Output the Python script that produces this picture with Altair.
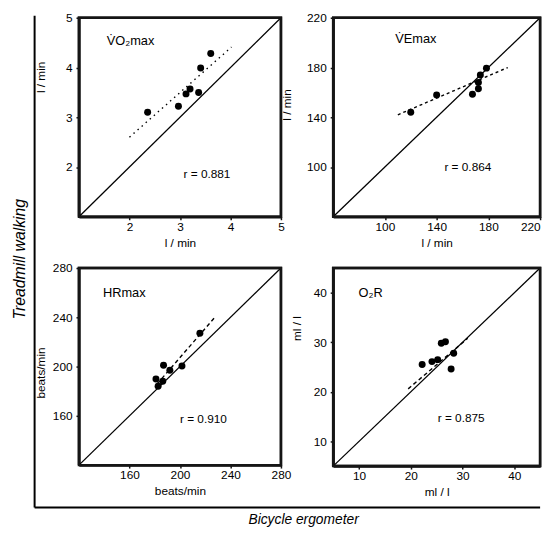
import altair as alt
import pandas as pd

FONT = "Liberation Sans"
EDGE = "#151515"

# ---- data: bicycle ergometer (x) vs treadmill walking (y) ----
vo2_bike = [2.36, 2.97, 3.12, 3.20, 3.37, 3.41, 3.61]
vo2_tread = [3.10, 3.22, 3.47, 3.57, 3.50, 3.99, 4.28]
vo2_reg_x = [2.0, 4.02]
vo2_reg_y = [2.6, 4.41]

ve_bike = [120, 140, 167.7, 172.3, 172.3, 173.8, 178.5]
ve_tread = [144, 158, 158.5, 163, 168, 174, 179.5]
ve_reg_x = [110, 195]
ve_reg_y = [142, 180]

hr_bike = [181, 182.7, 186.4, 187, 192, 201.6, 215.8]
hr_tread = [190, 184, 188, 201, 197, 200.5, 227]
hr_reg_x = [182, 228.5]
hr_reg_y = [186, 241]

o2r_bike = [22.2, 24.1, 25.2, 25.9, 26.7, 28.3, 27.8]
o2r_tread = [25.5, 26.1, 26.5, 29.8, 30.1, 27.8, 24.6]
o2r_reg_x = [19.5, 31.0]
o2r_reg_y = [20.6, 30.8]

vo2_ticks = [2, 3, 4, 5]
ve_ticks = [100, 140, 180, 220]
hr_ticks = [160, 200, 240, 280]
o2r_ticks = [10, 20, 30, 40]


def panel(xs, ys, dom, ticks, rx, ry, dash, name, rtext, name_xy, r_xy,
          xtitle, ytitle, w, h, ytx, yty, last_right=False, extra=None):
    sx = alt.Scale(domain=dom, nice=False, zero=False)
    sy = alt.Scale(domain=dom, nice=False, zero=False)
    common = dict(values=ticks, format="d", grid=False, domain=True,
                  domainColor=EDGE, domainWidth=2.5, tickSize=3,
                  tickWidth=1.5, tickColor=EDGE, labelFont=FONT,
                  labelFontSize=12, labelColor="black", labelFlush=False,
                  labelOverlap=False, titleFont=FONT, titleFontSize=12,
                  titleFontWeight="normal", titleColor="black",
                  titleBaseline="middle")
    xkw = {}
    if last_right:
        xkw["labelAlign"] = alt.expr(
            f"datum.value == {dom[1]} ? 'right' : 'center'")
    xa = alt.Axis(title=xtitle, labelPadding=2, titleY=26, **common, **xkw)
    ya = alt.Axis(title=ytitle, labelPadding=4, titleX=ytx, titleY=yty,
                  titleAngle=270, **common)

    pts = alt.Chart(pd.DataFrame({"x": xs, "y": ys})).mark_circle(
        size=50, color="black", opacity=1
    ).encode(x=alt.X("x:Q", scale=sx, axis=xa), y=alt.Y("y:Q", scale=sy, axis=ya))

    ident = alt.Chart(pd.DataFrame({"x": dom, "y": dom})).mark_line(
        color="black", strokeWidth=1.3
    ).encode(x="x:Q", y="y:Q")

    reg = alt.Chart(pd.DataFrame({"x": rx, "y": ry})).mark_line(
        color="black", strokeWidth=1.4, strokeDash=dash
    ).encode(x="x:Q", y="y:Q")

    lab = alt.Chart(pd.DataFrame({"x": [name_xy[0], r_xy[0]],
                                  "y": [name_xy[1], r_xy[1]],
                                  "t": [name, rtext],
                                  "s": [13, 12]})).mark_text(
        align="left", baseline="middle", font=FONT, color="black"
    ).encode(x="x:Q", y="y:Q", text="t:N",
             size=alt.Size("s:Q", scale=None, legend=None))

    # square panel frame: closed path through the panel's own scales
    lo, hi = dom
    box = alt.Chart(pd.DataFrame({"x": [lo, hi, hi, lo, lo],
                                  "y": [lo, lo, hi, hi, lo],
                                  "o": [0, 1, 2, 3, 4]})).mark_line(
        color=EDGE, strokeWidth=2.5, strokeJoin="miter"
    ).encode(x="x:Q", y="y:Q", order="o:Q")

    layers = [pts, ident, reg, lab, box]
    if extra:
        layers += extra
    return alt.layer(*layers).properties(width=w, height=h)


one = pd.DataFrame({"a": [0]})
frame_v = alt.Chart(one).mark_rule(color="black", strokeWidth=2).encode(
    x=alt.value(-45), y=alt.value(-256), y2=alt.value(243))
frame_h = alt.Chart(one).mark_rule(color="black", strokeWidth=2).encode(
    x=alt.value(-45), x2=alt.value(468), y=alt.value(243))
bic = alt.Chart(one).mark_text(
    text="Bicycle  ergometer", font=FONT, fontSize=14, fontStyle="italic",
    align="center", baseline="middle", color="black"
).encode(x=alt.value(228), y=alt.value(256))
tread = alt.Chart(one).mark_text(
    text="Treadmill  walking", font=FONT, fontSize=16, fontStyle="italic",
    align="center", baseline="middle", angle=270, color="black"
).encode(x=alt.value(-60), y=alt.value(-9))

p1 = panel(vo2_bike, vo2_tread, [1, 5], vo2_ticks, vo2_reg_x, vo2_reg_y, [1.5, 4],
           "V\u0307O\u2082max", "r = 0.881", (1.55, 4.53), (3.07, 1.86),
           "l / min", "l / min", 205, 202, -39, 60)
p2 = panel(ve_bike, ve_tread, [60, 220], ve_ticks, ve_reg_x, ve_reg_y, [3, 3],
           "V\u0307Emax", "r = 0.864", (108, 203), (146, 100),
           "l / min", "l / min", 210, 202, -47, 88, last_right=True)
p3 = panel(hr_bike, hr_tread, [120, 280], hr_ticks, hr_reg_x, hr_reg_y, [4, 3],
           "HRmax", "r = 0.910", (139, 260), (200, 157),
           "beats/min", "beats/min", 205, 200, -39, 106,
           extra=[frame_v, frame_h, bic, tread])
p4 = panel(o2r_bike, o2r_tread, [5, 45], o2r_ticks, o2r_reg_x, o2r_reg_y, [4, 3],
           "O\u2082R", "r = 0.875", (9.9, 40), (25.2, 14.7),
           "ml / l", "ml / l", 210, 201, -37, 61)

chart = alt.concat(p1, p2, p3, p4, columns=2,
                   spacing={"row": 52, "column": 53},
                   bounds="flush", align="each").properties(
    padding={"left": 2, "top": -2, "right": 0, "bottom": 0},
    background="white",
).configure_view(stroke=EDGE, strokeWidth=2.5)

chart.save("out.html", embed_options={"renderer": "svg", "actions": False})
